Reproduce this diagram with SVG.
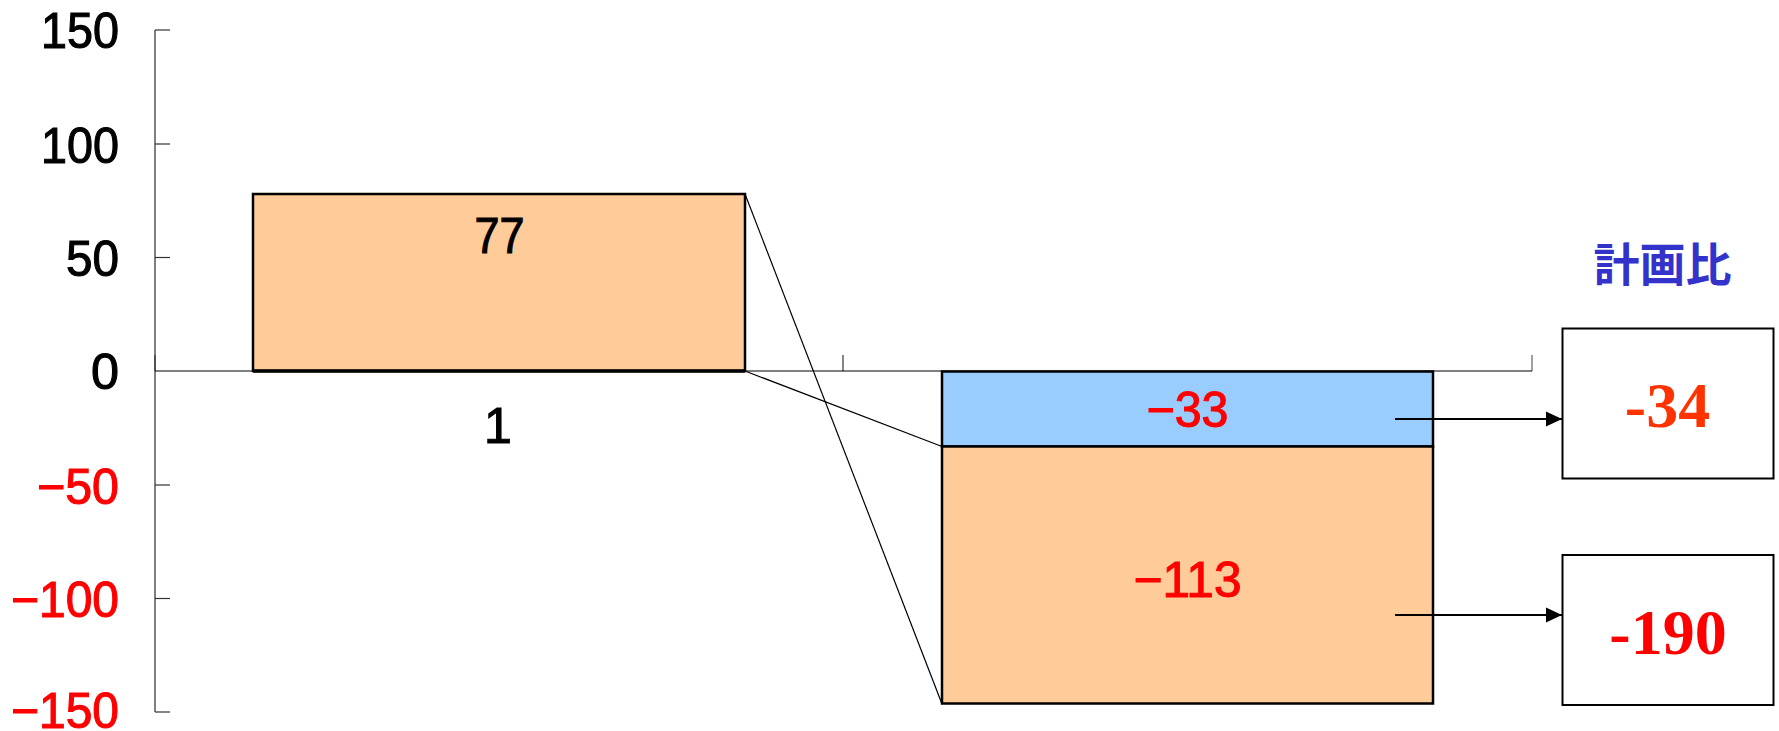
<svg xmlns="http://www.w3.org/2000/svg" width="1779" height="731" viewBox="0 0 1779 731">
<style>
.g{font-family:"Liberation Sans","Noto Sans",Arial,sans-serif;font-size:50px;stroke-width:1.1;paint-order:stroke}
.blk{fill:#000;stroke:#000}
.red{fill:#FF0000;stroke:#FF0000}
.bar{stroke:#000;stroke-width:2.5}
.conn{stroke:#000;stroke-width:1.2;fill:none}
.arr{stroke:#000;stroke-width:1.8;fill:none}
.box{fill:#fff;stroke:#000;stroke-width:2}
.big{font-family:"Liberation Serif","Times New Roman",serif;font-weight:bold;font-size:64px;text-anchor:middle}
</style>
<defs>
<marker id="ah" markerUnits="userSpaceOnUse" markerWidth="16" markerHeight="16" viewBox="0 0 16 16" refX="16" refY="8" orient="auto">
<path d="M0,0.5 L16,8 L0,15.5 Z" fill="#000"/>
</marker>
</defs>
<rect width="1779" height="731" fill="#fff"/>

<g id="axis">
<line x1="155" y1="30" x2="155" y2="712" stroke="#808080" stroke-width="2"/>
<g stroke="#333" stroke-width="1.2">
<line x1="155" y1="30" x2="170" y2="30"/>
<line x1="155" y1="144" x2="170" y2="144"/>
<line x1="155" y1="257.5" x2="170" y2="257.5"/>
<line x1="155" y1="485" x2="170" y2="485"/>
<line x1="155" y1="598.5" x2="170" y2="598.5"/>
<line x1="155" y1="712" x2="170" y2="712"/>
<line x1="155" y1="355" x2="155" y2="371"/>
<line x1="843" y1="355" x2="843" y2="371"/>
</g>
<line x1="1532" y1="355" x2="1532" y2="371" stroke="#808080" stroke-width="1.5"/>
<line x1="155" y1="371" x2="1532" y2="371" stroke="#000" stroke-width="1.2"/>
<g class="g" text-anchor="end">
<text class="blk" x="119" y="48" textLength="78" lengthAdjust="spacingAndGlyphs">150</text>
<text class="blk" x="119" y="163" textLength="78" lengthAdjust="spacingAndGlyphs">100</text>
<text class="blk" x="119" y="276" textLength="53" lengthAdjust="spacingAndGlyphs">50</text>
<text class="blk" x="119" y="389" textLength="28" lengthAdjust="spacingAndGlyphs">0</text>
<text class="red" x="119" y="504" textLength="82" lengthAdjust="spacingAndGlyphs">−50</text>
<text class="red" x="119" y="617" textLength="108" lengthAdjust="spacingAndGlyphs">−100</text>
<text class="red" x="119" y="728" textLength="108" lengthAdjust="spacingAndGlyphs">−150</text>
</g>
<text class="g blk" x="498" y="443" text-anchor="middle">1</text>
</g>

<g id="bar1">
<rect class="bar" x="253" y="194" width="492" height="177" fill="#FFCC99"/>
<line x1="253" y1="371" x2="745" y2="371" stroke="#000" stroke-width="3.5"/>
<text class="g blk" x="499.5" y="253" text-anchor="middle" textLength="50" lengthAdjust="spacingAndGlyphs">77</text>
</g>

<g id="bar2-blue">
<rect class="bar" x="942" y="371.5" width="491" height="75" fill="#99CCFF"/>
<text class="g red" x="1187.5" y="427" text-anchor="middle" textLength="82" lengthAdjust="spacingAndGlyphs">−33</text>
</g>

<g id="bar2-orange">
<rect class="bar" x="942" y="446.5" width="491" height="257" fill="#FFCC99"/>
<text class="g red" x="1187.5" y="597" text-anchor="middle" textLength="108" lengthAdjust="spacingAndGlyphs">−113</text>
</g>

<g id="title">
<text x="1662.5" y="281" text-anchor="middle" font-family="'Noto Sans CJK JP','Noto Sans CJK SC',sans-serif" font-weight="bold" font-size="46" fill="#3333CC">計画比</text>
</g>

<g id="box1">
<rect class="box" x="1562.5" y="328.5" width="211" height="150"/>
<text class="big" x="1667.5" y="426.5" fill="#FF3300">-34</text>
</g>

<g id="box2">
<rect class="box" x="1562.5" y="555" width="211" height="150"/>
<text class="big" x="1668" y="654" fill="#FF0000">-190</text>
</g>

<g id="connectors">
<line class="conn" x1="745" y1="194" x2="942" y2="704"/>
<line class="conn" x1="745" y1="371" x2="942" y2="446.5"/>
<line class="arr" x1="1395" y1="419" x2="1562" y2="419" marker-end="url(#ah)"/>
<line class="arr" x1="1395" y1="615" x2="1562" y2="615" marker-end="url(#ah)"/>
</g>
</svg>
